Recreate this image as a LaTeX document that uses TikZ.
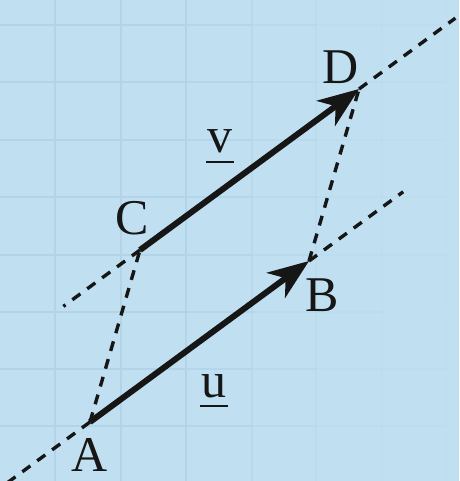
\documentclass[tikz,border=0pt]{standalone}
\usepackage{fontspec}
\setmainfont{Liberation Serif}
\usetikzlibrary{arrows.meta,calc}
\definecolor{bgblue}{RGB}{192,224,242}
\definecolor{gridblue}{RGB}{179,211,232}
\definecolor{ink}{RGB}{22,22,22}
\begin{document}
\begin{tikzpicture}[x=1pt,y=-1pt,
  vec/.style={line width=6pt, draw=ink, -{Stealth[length=41pt,width=31pt,inset=12pt]}},
  ext/.style={line width=3.4pt, draw=ink, dash pattern=on 10pt off 8.5pt},
  lbl/.style={inner sep=0pt, font=\fontsize{50}{60}\selectfont, text=ink},
  ul/.style={line width=2.5pt, draw=ink},
  gridline/.style={draw=gridblue, line width=2.5pt}]
\useasboundingbox (0,0) rectangle (459,481);
\fill[bgblue] (0,0) rectangle (459,481);
\clip (0,0) rectangle (459,481);
% faint grid, fading to the right
\foreach \x/\o in {55/1,121/1,186/0.9,252/0.6,316/0.35,382/0.18,447/0.06}
  \draw[gridline,opacity=\o] (\x,0) -- (\x,481);
\foreach \y in {25,82,140,197,255,312,369,426}{
  \foreach \xa/\xb/\o in {0/55/1,55/121/1,121/186/1,186/252/0.8,252/316/0.5,316/382/0.28,382/447/0.12,447/459/0.04}
    \draw[gridline,opacity=\o] (\xa,\y) -- (\xb,\y);
}
% points
\coordinate (A) at (90,422);
\coordinate (B) at (309,261);
\coordinate (C) at (140,250);
\coordinate (D) at (359,89);
\coordinate (Aext) at ($(A)!-0.45!(B)$);
\coordinate (Bext) at ($(A)!1.43!(B)$);
\coordinate (Cext) at ($(C)!-0.35!(D)$);
\coordinate (Dext) at ($(C)!1.44!(D)$);
% dashed lines
\draw[ext] (A) -- (Aext);
\draw[ext] (B) -- (Bext);
\draw[ext] (C) -- (Cext);
\draw[ext] (D) -- (Dext);
\draw[ext] (A) -- (C);
\draw[ext] (B) -- (D);
% vectors
\draw[vec] (A) -- (B);
\draw[vec] (C) -- (D);
% labels
\node[lbl] (lA) at (90,455) {A};
\node[lbl] (lB) at (322,295) {B};
\node[lbl] (lC) at (132,218) {C};
\node[lbl] (lD) at (341,67) {D};
\node[lbl,anchor=base] (lv) at (220,153) {v};
\node[lbl,anchor=base] (lu) at (214,397) {u};
\draw[ul] ([xshift=-1.5pt,yshift=-9pt]lv.base west) -- ([xshift=1.5pt,yshift=-9pt]lv.base east);
\draw[ul] ([xshift=-1.5pt,yshift=-9pt]lu.base west) -- ([xshift=1.5pt,yshift=-9pt]lu.base east);
\end{tikzpicture}
\end{document}
